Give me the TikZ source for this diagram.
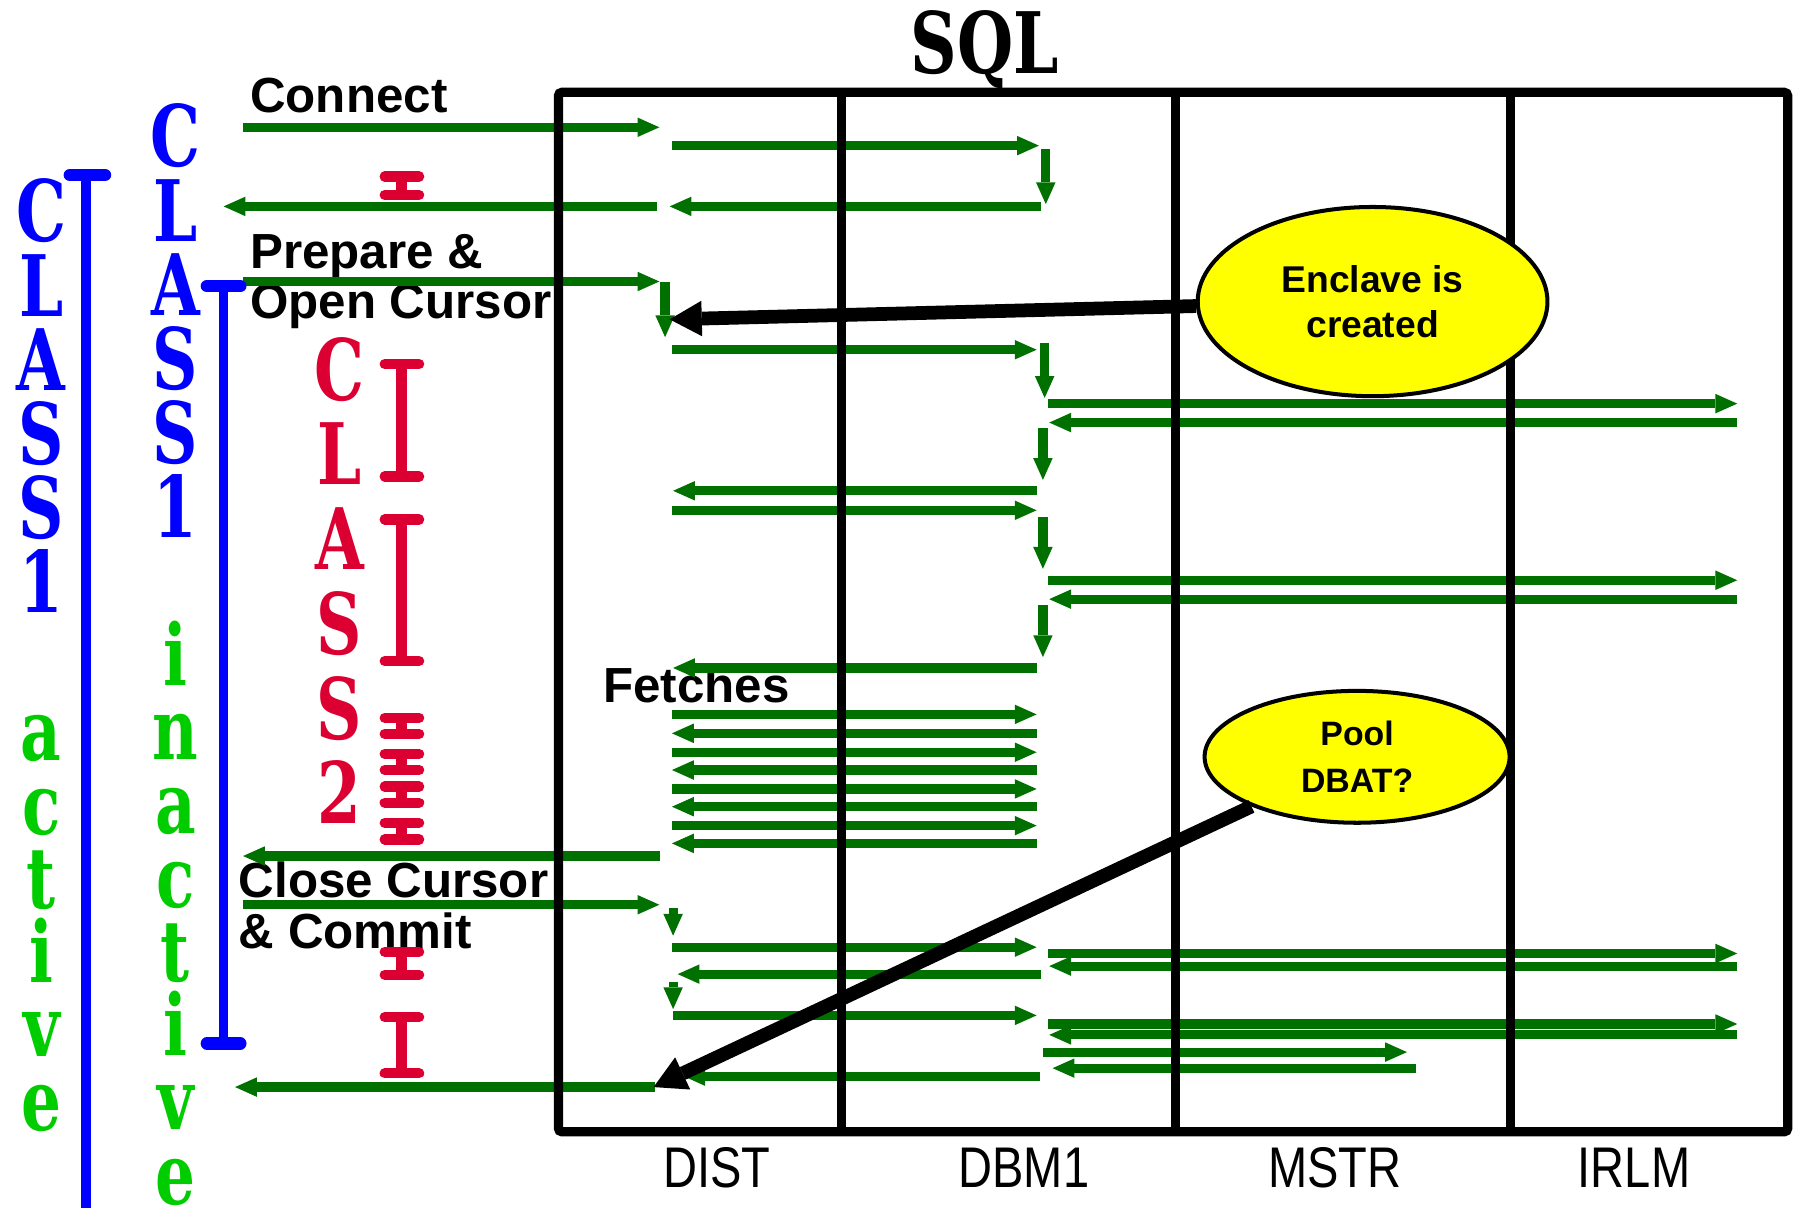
\documentclass[tikz,border=0pt]{standalone}
\usepackage{fontspec}
\setmainfont{Liberation Sans}
\newfontfamily\narrowsans[FakeStretch=0.82]{Liberation Sans}
\newfontfamily\tallserif[FakeStretch=0.74]{DejaVu Serif}
\newfontfamily\titleserif[FakeStretch=0.76]{DejaVu Serif}
\usetikzlibrary{arrows.meta,shapes.geometric}
\definecolor{flowgreen}{RGB}{0,112,0}
\definecolor{barblue}{RGB}{0,0,255}
\definecolor{lettergreen}{RGB}{0,204,0}
\definecolor{barred}{RGB}{220,0,50}
\definecolor{noteyellow}{RGB}{255,255,0}

% horizontal message: from x, to x, at y
\newcommand\hmsg[3]{\draw[msg] (#1,#3) -- (#2,#3);}
% downward hand-over: at x, from y, to y
\newcommand\vmsg[3]{\draw[msg] (#1,#2) -- (#1,#3);}
% red elapsed-time span between two y values
\newcommand\redspan[2]{%
  \draw[redbar] (350,#1) -- (350,#2);
  \draw[redbar,line cap=round] (335.5,#1) -- (365.5,#1) (335.5,#2) -- (365.5,#2);}

\begin{document}
\begin{tikzpicture}[x=1pt,y=-1pt,
  msg/.style={draw=flowgreen,line width=8pt,-{Triangle[length=19pt,width=17pt,line width=0pt]}},
  pointer/.style={draw=black,line width=12pt,-{Triangle[length=28pt,width=31pt,line width=0pt]}},
  frame/.style={draw=black,line width=8pt,rounded corners=3pt},
  bluebar/.style={draw=barblue,line width=8pt},
  bluecap/.style={draw=barblue,line width=11pt,line cap=round},
  redbar/.style={draw=barred,line width=9pt},
  stepname/.style={anchor=base west,inner sep=0pt,font=\bfseries\fontsize{43}{43}\selectfont},
  lane/.style={anchor=base,inner sep=0pt,font=\narrowsans\fontsize{50}{50}\selectfont},
  letter/.style={anchor=base,inner sep=0pt,font=\tallserif\bfseries\fontsize{74}{74}\selectfont},
  note/.style={ellipse,draw=black,line width=3.5pt,fill=noteyellow,inner sep=0pt,align=center}]

\useasboundingbox (0,0) rectangle (1568,1053);

% title and lane names
\node[anchor=base,inner sep=0pt,font=\titleserif\bfseries\fontsize{74}{74}\selectfont] (sqltitle) at (859,64.5) {SQL};
\node[lane] (dist) at (625,1036) {DIST};
\node[lane] (dbm1) at (893,1036) {DBM1};
\node[lane] (mstr) at (1164,1036) {MSTR};
\node[lane] (irlm) at (1425,1036) {IRLM};

% step names
\node[stepname] (connect) at (218,98.3) {Connect};
\node[stepname] (prepareA) at (218,234.5) {Prepare \&};
\node[stepname] (prepareB) at (218,277.7) {Open Cursor};
\node[stepname] (fetches) at (525.8,613) {Fetches};
\node[stepname] (closeA) at (208,783) {Close Cursor};
\node[stepname] (closeB) at (208,827) {\& Commit};

% vertical class captions
\foreach \ch/\yy [count=\k] in {C/211,L/275.6,A/340.2,S/404.8,S/469.4,1/534}
  \node[letter,text=barblue] (outerA\k) at (36,\yy) {\ch};
\foreach \ch/\yy [count=\k] in {a/663.2,c/727.8,t/792.4,i/857,v/921.6,e/986.2}
  \node[letter,text=lettergreen] (outerB\k) at (36,\yy) {\ch};
\foreach \ch/\yy [count=\k] in {C/145.6,L/210.2,A/274.8,S/339.4,S/404,1/468.6}
  \node[letter,text=barblue] (innerA\k) at (153,\yy) {\ch};
\foreach \ch/\yy [count=\k] in {i/597.8,n/662.4,a/727,c/791.6,t/856.2,i/920.8,v/985.4,e/1050}
  \node[letter,text=lettergreen] (innerB\k) at (153,\yy) {\ch};
\foreach \ch/\yy [count=\k] in {C/349,L/422.9,A/496.8,S/570.7,S/644.6,2/718.5}
  \node[letter,text=barred] (redcol\k) at (296,\yy) {\ch};

% connect
\hmsg{212}{575}{111}
\hmsg{586}{906}{127}
\vmsg{912}{130}{178}
\hmsg{908}{584}{180}
\hmsg{573}{195}{180}
% prepare and open cursor
\hmsg{212}{575}{245.5}
\vmsg{580}{246}{294}
\hmsg{586}{904}{305}
\vmsg{911}{299}{347}
\hmsg{914}{1515}{352}
\hmsg{1515}{915}{368.5}
\vmsg{909.5}{373}{418.5}
\hmsg{904}{587}{428}
\hmsg{586}{904}{445}
\vmsg{909.5}{451}{496}
\hmsg{914}{1515}{506}
\hmsg{1515}{915}{522.5}
\vmsg{909.5}{528}{573}
\hmsg{904}{587}{582.5}
% fetches
\hmsg{586}{904}{623}
\hmsg{904}{586}{639.5}
\hmsg{586}{904}{656}
\hmsg{904}{586}{671.5}
\hmsg{586}{904}{688}
\hmsg{904}{586}{703.5}
\hmsg{586}{904}{720}
\hmsg{904}{586}{735.5}
\hmsg{576}{212}{746.5}
% close cursor and commit
\hmsg{212}{575}{789}
\vmsg{587}{792}{816}
\hmsg{586}{904}{826}
\hmsg{914}{1515}{831.5}
\hmsg{1515}{915}{842.5}
\hmsg{908}{591}{849.5}
\vmsg{587}{856}{880}
\hmsg{587}{904}{885.5}
\hmsg{914}{1515}{893}
\hmsg{1515}{915}{902.5}
\hmsg{910}{1227}{917.5}
\hmsg{1235}{918}{931.5}
\hmsg{907}{596}{938.5}
\hmsg{571}{205}{948}

% lanes
\draw[frame] (487,80.5) rectangle (1559,987);
\foreach \xx in {734,1025,1317}
  \draw[frame] (\xx,80.5) -- (\xx,987);

% class 1 spans
\draw[bluebar] (75,152.6) -- (75,1060);
\draw[bluecap] (61,152.6) -- (91.5,152.6);
\draw[bluebar] (195,249.5) -- (195,910);
\draw[bluecap] (180.5,249.5) -- (209.5,249.5);
\draw[bluecap] (180.5,910) -- (209.5,910);

% class 2 spans
\redspan{154}{170}
\redspan{317.5}{415.5}
\redspan{453}{576.5}
\redspan{626}{640}
\redspan{657.5}{671.5}
\redspan{686}{700}
\redspan{717.5}{732}
\redspan{830}{850}
\redspan{887}{936}

% notes
\node[note,minimum width=305pt,minimum height=165pt,font=\bfseries\fontsize{32.5}{39.6}\selectfont]
  (enclave) at (1197,263) {Enclave is\\created};
\node[note,minimum width=266pt,minimum height=115pt,font=\bfseries\fontsize{29.5}{41.7}\selectfont]
  (pool) at (1183.5,660) {Pool\\DBAT?};
\coordinate (enclaveTip) at (584,278.5);
\coordinate (poolTip) at (570,948);
\draw[pointer] (enclave) -- (enclaveTip);
\draw[pointer] (pool) -- (poolTip);
\end{tikzpicture}
\end{document}
